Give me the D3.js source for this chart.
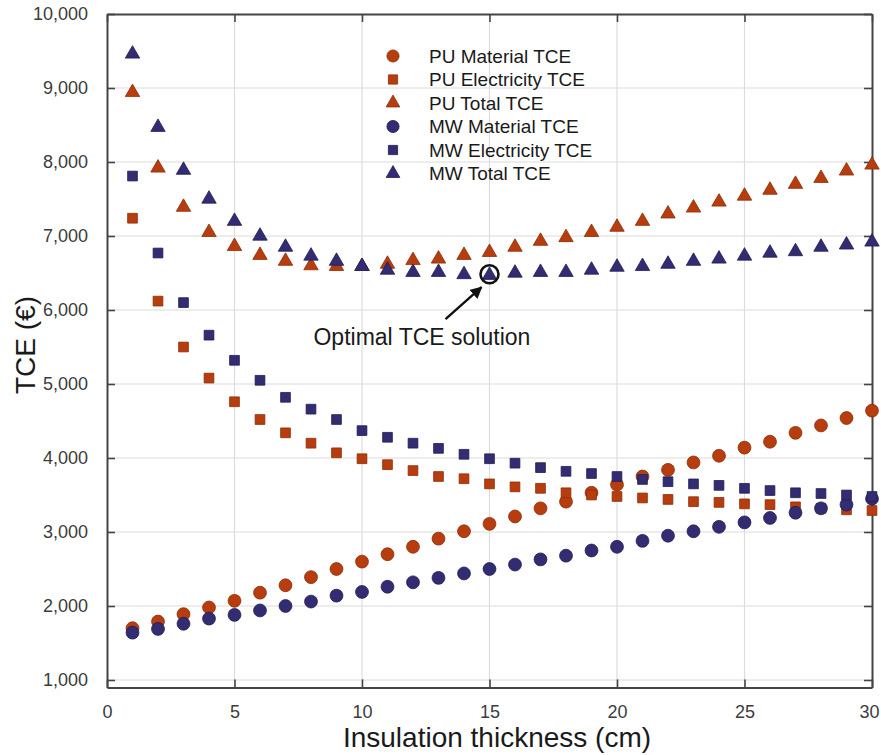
<!DOCTYPE html>
<html>
<head>
<meta charset="utf-8">
<script src="https://cdn.jsdelivr.net/npm/d3@7"></script>
<style>
  body { margin: 0; background: #fff; }
  svg text { font-family: "Liberation Sans", Arial, sans-serif; }
</style>
</head>
<body>
<div id="chart"></div>
<script>
// insulation thickness (cm)
const thickness = [1, 2, 3, 4, 5, 6, 7, 8, 9, 10, 11, 12, 13, 14, 15, 16, 17, 18, 19, 20, 21, 22, 23, 24, 25, 26, 27, 28, 29, 30];

const puMaterial = [1700, 1790, 1890, 1980, 2070, 2180, 2280, 2390, 2500, 2600, 2700, 2800, 2910, 3010, 3110, 3210, 3320, 3410, 3530, 3640, 3750, 3840, 3940, 4030, 4140, 4220, 4340, 4440, 4540, 4640];
const puElectricity = [7240, 6120, 5500, 5080, 4760, 4520, 4340, 4200, 4070, 3990, 3910, 3830, 3750, 3720, 3650, 3610, 3590, 3530, 3500, 3480, 3460, 3440, 3410, 3400, 3380, 3370, 3340, 3320, 3300, 3290];
const puTotal = [8940, 7920, 7390, 7050, 6860, 6740, 6660, 6600, 6590, 6590, 6620, 6670, 6690, 6740, 6780, 6850, 6930, 6980, 7050, 7120, 7200, 7300, 7380, 7460, 7540, 7620, 7700, 7780, 7880, 7960];
const mwMaterial = [1640, 1690, 1760, 1830, 1880, 1940, 2000, 2060, 2140, 2190, 2260, 2320, 2380, 2440, 2500, 2560, 2630, 2680, 2750, 2800, 2880, 2950, 3010, 3070, 3130, 3190, 3260, 3320, 3370, 3450];
const mwElectricity = [7810, 6770, 6100, 5660, 5320, 5050, 4820, 4660, 4520, 4370, 4280, 4200, 4130, 4050, 3990, 3930, 3870, 3820, 3790, 3750, 3710, 3680, 3650, 3630, 3590, 3560, 3530, 3520, 3500, 3480];
const mwTotal = [9460, 8470, 7890, 7500, 7200, 7000, 6850, 6730, 6660, 6590, 6540, 6510, 6510, 6480, 6470, 6500, 6510, 6510, 6540, 6580, 6590, 6620, 6660, 6690, 6730, 6770, 6790, 6850, 6880, 6920];

const xTicks = [0, 5, 10, 15, 20, 25, 30];
const yTicks = [1000, 2000, 3000, 4000, 5000, 6000, 7000, 8000, 9000, 10000];
const optimalX = 15;

const orange = "#b83d0e", orangeEdge = "#8c2d08";
const navy = "#322c72", navyEdge = "#221d55";

const series = [
    {name: "PU Material TCE", values: puMaterial, shape: d3.symbolCircle, size: 130, fill: orange, edge: orangeEdge},
    {name: "PU Electricity TCE", values: puElectricity, shape: d3.symbolSquare, size: 95, fill: orange, edge: orangeEdge},
    {name: "PU Total TCE", values: puTotal, shape: d3.symbolTriangle, size: 90, fill: orange, edge: orangeEdge},
    {name: "MW Material TCE", values: mwMaterial, shape: d3.symbolCircle, size: 130, fill: navy, edge: navyEdge},
    {name: "MW Electricity TCE", values: mwElectricity, shape: d3.symbolSquare, size: 95, fill: navy, edge: navyEdge},
    {name: "MW Total TCE", values: mwTotal, shape: d3.symbolTriangle, size: 90, fill: navy, edge: navyEdge}
];

const width = 881, height = 755;
const x = d3.scaleLinear().domain([0, 30]).range([107, 872]);
const y = d3.scaleLinear().domain([900, 10000]).range([687.4, 14]);

const svg = d3.select("#chart").append("svg")
    .attr("width", width)
    .attr("height", height);

// grid
svg.append("g").selectAll("line")
    .data(xTicks.slice(1, -1))
    .enter().append("line")
    .attr("x1", d => x(d)).attr("x2", d => x(d))
    .attr("y1", y.range()[1]).attr("y2", y.range()[0])
    .attr("stroke", "#dcdcdc").attr("stroke-width", 1.2);
svg.append("g").selectAll("line")
    .data(yTicks.slice(0, -1))
    .enter().append("line")
    .attr("x1", x.range()[0]).attr("x2", x.range()[1])
    .attr("y1", d => y(d)).attr("y2", d => y(d))
    .attr("stroke", "#dcdcdc").attr("stroke-width", 1.2);

// axes, ticks pointing inward
function styleAxis(g) {
    g.selectAll("path.domain").attr("stroke", "#444").attr("stroke-width", 2);
    g.selectAll(".tick line").attr("stroke", "#444").attr("stroke-width", 1.6);
    g.selectAll("text").attr("fill", "#3c3c3c").style("font-size", "18px");
}
const bottomAxis = svg.append("g")
    .attr("transform", "translate(0," + y.range()[0] + ")")
    .call(d3.axisBottom(x).tickValues(xTicks).tickSizeInner(-8).tickSizeOuter(0).tickPadding(18))
    .call(styleAxis);
// keep the last label inside the window
bottomAxis.selectAll(".tick text").filter(d => d === 30).attr("dx", -3);
svg.append("g")
    .attr("transform", "translate(0," + y.range()[1] + ")")
    .call(d3.axisTop(x).tickValues(xTicks).tickSizeInner(-8).tickSizeOuter(0).tickFormat(""))
    .call(styleAxis);
svg.append("g")
    .attr("transform", "translate(" + x.range()[0] + ",0)")
    .call(d3.axisLeft(y).tickValues(yTicks).tickSizeInner(-8).tickSizeOuter(0).tickPadding(19).tickFormat(d3.format(",")))
    .call(styleAxis);
svg.append("g")
    .attr("transform", "translate(" + x.range()[1] + ",0)")
    .call(d3.axisRight(y).tickValues(yTicks).tickSizeInner(-8).tickSizeOuter(0).tickFormat(""))
    .call(styleAxis);

// markers
const symbol = d3.symbol();
series.forEach(function(s) {
    svg.append("g").selectAll("path")
        .data(thickness.map((t, i) => [t, s.values[i]]))
        .enter().append("path")
        .attr("transform", d => "translate(" + x(d[0]) + "," + y(d[1]) + ")")
        .attr("d", symbol.type(s.shape).size(s.size)())
        .attr("fill", s.fill)
        .attr("stroke", s.edge)
        .attr("stroke-width", 0.8);
});

// optimal annotation
const optIdx = thickness.indexOf(optimalX);
const ox = x(optimalX), oy = y(mwTotal[optIdx]);
svg.append("circle")
    .attr("cx", ox).attr("cy", oy - 1).attr("r", 9)
    .attr("fill", "none").attr("stroke", "#111").attr("stroke-width", 2.6);
svg.append("defs").append("marker")
    .attr("id", "head")
    .attr("viewBox", "0 0 10 10")
    .attr("refX", 9).attr("refY", 5)
    .attr("markerWidth", 5).attr("markerHeight", 5)
    .attr("markerUnits", "strokeWidth")
    .attr("orient", "auto")
    .append("path").attr("d", "M0,0L10,5L0,10z").attr("fill", "#111");
svg.append("line")
    .attr("x1", ox - 44).attr("y1", oy + 44)
    .attr("x2", ox - 8).attr("y2", oy + 12)
    .attr("stroke", "#111").attr("stroke-width", 2.4)
    .attr("marker-end", "url(#head)");
svg.append("text")
    .attr("x", x(12.35)).attr("y", oy + 70)
    .attr("text-anchor", "middle")
    .attr("fill", "#1a1a1a")
    .style("font-size", "23px")
    .text("Optimal TCE solution");

// legend
const legend = svg.append("g").attr("transform", "translate(393,56)");
series.forEach(function(s, i) {
    const row = legend.append("g").attr("transform", "translate(0," + (i * 23.5) + ")");
    row.append("path")
        .attr("d", symbol.type(s.shape).size(s.size * 0.9)())
        .attr("fill", s.fill).attr("stroke", s.edge).attr("stroke-width", 0.8);
    row.append("text")
        .attr("x", 36).attr("y", 6.5)
        .attr("fill", "#1a1a1a")
        .style("font-size", "19px")
        .text(s.name);
});

// axis titles
svg.append("text")
    .attr("x", 497).attr("y", 747)
    .attr("text-anchor", "middle")
    .attr("fill", "#1a1a1a")
    .style("font-size", "28px")
    .text("Insulation thickness (cm)");
svg.append("text")
    .attr("transform", "translate(35,345) rotate(-90)")
    .attr("text-anchor", "middle")
    .attr("fill", "#1a1a1a")
    .style("font-size", "28px")
    .text("TCE (€)");
</script>
</body>
</html>
